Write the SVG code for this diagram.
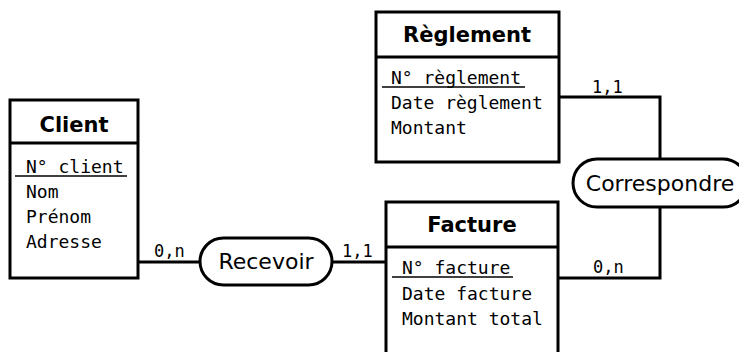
<svg xmlns="http://www.w3.org/2000/svg" width="739" height="352" viewBox="0 0 739 352">
<style>
.box{fill:#fff;stroke:#000;stroke-width:3}
.sep{stroke:#000;stroke-width:3}
.ul{stroke:#000;stroke-width:1.5}
.title{font-family:"DejaVu Sans",sans-serif;font-weight:bold;font-size:21px;text-anchor:middle;fill:#000}
.attr{font-family:"DejaVu Sans Mono",monospace;font-size:18px;fill:#000}
.rel{fill:#fff;stroke:#000;stroke-width:3}
.reltxt{font-family:"DejaVu Sans",sans-serif;font-size:22px;text-anchor:middle;fill:#000}
.card{font-family:"DejaVu Sans Mono",monospace;font-size:17px;fill:#000}
.conn{fill:none;stroke:#000;stroke-width:3}
</style>
<rect width="739" height="352" fill="#fff"/>
<g id="connectors">
<polyline class="conn" points="138,262 200,262"/>
<polyline class="conn" points="332,262 386,262"/>
<polyline class="conn" points="559,97 660,97 660,159"/>
<polyline class="conn" points="660,207 660,278 558,278"/>
<text class="card" x="154" y="257">0,n</text>
<text class="card" x="342" y="257">1,1</text>
<text class="card" x="592" y="93">1,1</text>
<text class="card" x="593" y="273">0,n</text>
</g>
<g id="client">
<rect class="box" x="10" y="100" width="128" height="178"/>
<line class="sep" x1="10" y1="143" x2="138" y2="143"/>
<text class="title" x="74" y="132">Client</text>
<text class="attr" x="26" y="173">N° client</text>
<line class="ul" x1="15" y1="176" x2="127" y2="176"/>
<text class="attr" x="26" y="198">Nom</text>
<text class="attr" x="26" y="223">Prénom</text>
<text class="attr" x="26" y="248">Adresse</text>
</g>
<g id="reglement">
<rect class="box" x="376" y="12" width="183" height="150"/>
<line class="sep" x1="376" y1="57" x2="559" y2="57"/>
<text class="title" x="467" y="42">Règlement</text>
<text class="attr" x="391" y="84">N° règlement</text>
<line class="ul" x1="382" y1="87" x2="525" y2="87"/>
<text class="attr" x="391" y="109">Date règlement</text>
<text class="attr" x="391" y="134">Montant</text>
</g>
<g id="facture">
<rect class="box" x="386" y="202" width="172" height="170"/>
<line class="sep" x1="386" y1="247" x2="558" y2="247"/>
<text class="title" x="472" y="232">Facture</text>
<text class="attr" x="402" y="274">N° facture</text>
<line class="ul" x1="392" y1="277" x2="513" y2="277"/>
<text class="attr" x="402" y="300">Date facture</text>
<text class="attr" x="402" y="325">Montant total</text>
</g>
<g id="recevoir">
<rect class="rel" x="200" y="238" width="132" height="47" rx="23.5"/>
<text class="reltxt" x="266" y="269">Recevoir</text>
</g>
<g id="correspondre">
<rect class="rel" x="573" y="159" width="174" height="48" rx="24"/>
<text class="reltxt" x="660" y="191">Correspondre</text>
</g>
</svg>
